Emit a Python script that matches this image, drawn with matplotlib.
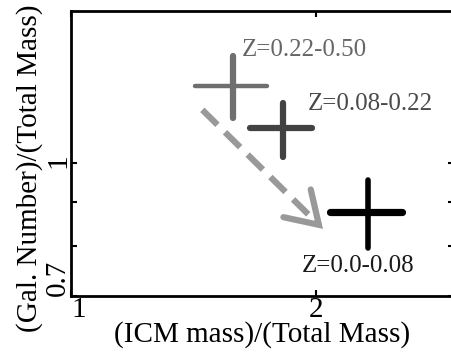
import matplotlib
matplotlib.use("Agg")
import matplotlib.pyplot as plt
from matplotlib.patches import FancyArrowPatch

plt.rcParams["font.family"] = ["Liberation Serif", "DejaVu Serif"]

# redshift bins: centre and extent of each cross (ICM fraction, galaxy number fraction)
labels = ["Z=0.22-0.50", "Z=0.08-0.22", "Z=0.0-0.08"]
icm_mid = [1.58, 1.82, 2.32]
icm_lo = [1.42, 1.66, 2.08]
icm_hi = [1.74, 1.98, 2.55]
gal_mid = [1.229, 1.098, 0.877]
gal_lo = [1.128, 1.016, 0.796]
gal_hi = [1.332, 1.175, 0.955]

# trend arrow from high to low redshift
arrow_x = [1.45, 2.04]
arrow_y = [1.153, 0.838]

x_ticks = [1, 2]
y_ticks = [0.7, 1]

colors = ["#6f6f6f", "#424242", "#000000"]
hwidth = [3.2, 4.5, 5.2]
vwidth = [4.5, 4.5, 4.0]
text_colors = ["#666666", "#4a4a4a", "#1a1a1a"]
text_pos = [(1.622, 1.354), (1.955, 1.171), (1.922, 0.759)]

fig = plt.figure(figsize=(4.51, 3.52), dpi=100)
ax = fig.add_axes([0.1574, 0.1591, 0.8492, 0.8097])
ax.set_xscale("log")
ax.set_yscale("log")
ax.set_xlim(1, 2.955)
ax.set_ylim(0.7, 1.503)

for i in range(3):
    ax.plot([icm_lo[i], icm_hi[i]], [gal_mid[i], gal_mid[i]], color=colors[i],
            lw=hwidth[i], solid_capstyle="round", zorder=3)
    ax.plot([icm_mid[i], icm_mid[i]], [gal_lo[i], gal_hi[i]], color=colors[i],
            lw=vwidth[i], solid_capstyle="round", zorder=3)
    ax.text(text_pos[i][0], text_pos[i][1], labels[i], color=text_colors[i],
            fontsize=18, ha="left", va="center")

# dashed shaft, then a solid open head at the end
ax.plot(arrow_x[:1] + [arrow_x[0] * (arrow_x[1] / arrow_x[0]) ** 0.97],
        arrow_y[:1] + [arrow_y[0] * (arrow_y[1] / arrow_y[0]) ** 0.97],
        color="#999999", lw=4.5, ls=(0, (3.4, 1.7)),
        solid_capstyle="butt", zorder=2)
frac = 0.95
hx0 = arrow_x[0] * (arrow_x[1] / arrow_x[0]) ** frac
hy0 = arrow_y[0] * (arrow_y[1] / arrow_y[0]) ** frac
head = FancyArrowPatch((hx0, hy0), (arrow_x[1], arrow_y[1]),
                       arrowstyle="->,head_length=1.1,head_width=0.7",
                       color="#999999", lw=4.5, mutation_scale=20,
                       shrinkA=0, shrinkB=0, joinstyle="miter", zorder=2)
ax.add_patch(head)

ax.xaxis.set_major_locator(plt.FixedLocator(x_ticks))
ax.xaxis.set_minor_locator(plt.NullLocator())
ax.set_xticklabels([str(t) for t in x_ticks])
ax.yaxis.set_major_locator(plt.FixedLocator(y_ticks))
ax.yaxis.set_minor_locator(plt.FixedLocator([0.8, 0.9]))
ax.yaxis.set_minor_formatter(plt.NullFormatter())
ax.set_yticklabels([str(t) for t in y_ticks], rotation=90)

ax.tick_params(which="both", direction="in", top=True, right=True,
               length=4, width=1.5, labelsize=21, pad=1)
ax.tick_params(axis="y", pad=0)
ax.get_xticklabels()[0].set_ha("left")
ax.get_yticklabels()[0].set_va("bottom")

for s in ax.spines.values():
    s.set_linewidth(2)

ax.set_xlabel("(ICM mass)/(Total Mass)", fontsize=21, labelpad=-2)
ax.set_ylabel("(Gal. Number)/(Total Mass)", fontsize=21)
ax.yaxis.set_label_coords(-0.073, 0.449)

fig.savefig("out.png", dpi=100)
